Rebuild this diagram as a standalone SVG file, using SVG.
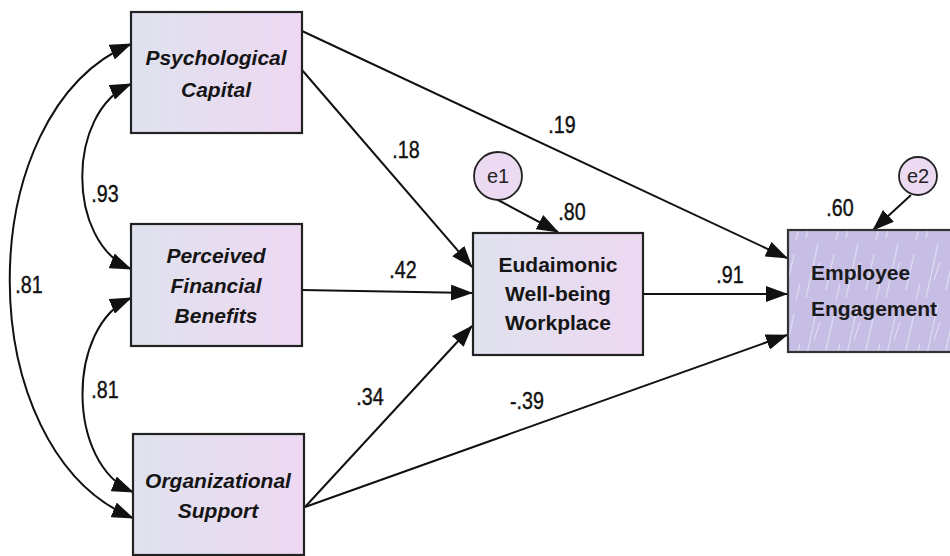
<svg xmlns="http://www.w3.org/2000/svg" width="950" height="556" viewBox="0 0 950 556">
  <defs>
    <linearGradient id="boxFill" x1="0" y1="0" x2="1" y2="0">
      <stop offset="0" stop-color="#dfe2ee"/>
      <stop offset="1" stop-color="#eed8f2"/>
    </linearGradient>
    <pattern id="streaks" width="40" height="60" patternUnits="userSpaceOnUse">
      <rect width="40" height="60" fill="#c6bee4"/>
      <path d="M6,58 L18,4 M26,50 L34,14 M14,40 L20,22 M36,60 L40,44" stroke="#eeeaf8" stroke-width="1" opacity="0.8" fill="none"/>
    </pattern>
    <marker id="head" viewBox="0 0 22 16" markerWidth="22" markerHeight="16" refX="21" refY="8" orient="auto-start-reverse" markerUnits="userSpaceOnUse">
      <path d="M0,0 L22,8 L0,16 Z" fill="#111"/>
    </marker>
  </defs>
  <style>
    .box { fill: url(#boxFill); stroke: #222; stroke-width: 2.2; }
    .err { fill: #ebdaf1; stroke: #222; stroke-width: 1.8; }
    .lbl { font-family: "Liberation Sans", Arial, sans-serif; font-size: 21px; font-weight: bold; fill: #151515; text-anchor: middle; }
    .exo { font-style: italic; }
    .eng { font-family: "Liberation Sans", Arial, sans-serif; font-size: 21px; font-weight: bold; fill: #1a1a1a; }
    .etxt { font-family: "Liberation Sans", Arial, sans-serif; font-size: 20px; fill: #222; text-anchor: middle; }
    .coef { font-family: "Liberation Sans", Arial, sans-serif; font-size: 24px; fill: #111; stroke: #111; stroke-width: 0.4; text-anchor: middle;
            transform-box: fill-box; transform-origin: center; transform: scaleX(0.82); }
    .path { fill: none; stroke: #111; stroke-width: 2; marker-end: url(#head); }
    .cov { fill: none; stroke: #111; stroke-width: 2; marker-start: url(#head); marker-end: url(#head); }
  </style>

  <!-- connectors -->
  <g id="connectors">
    <path class="cov" d="M131,84 C66,112 66,242 131,269"/>
    <path class="cov" d="M131,298 C66,326 66,464 133,492"/>
    <path class="cov" d="M131,44 C-31,112 -31,450 133,518"/>
    <line class="path" x1="302" y1="31" x2="787" y2="258"/>
    <line class="path" x1="302" y1="70" x2="472" y2="267"/>
    <line class="path" x1="302" y1="290" x2="472" y2="293"/>
    <line class="path" x1="305" y1="507" x2="472" y2="326"/>
    <line class="path" x1="305" y1="507" x2="787" y2="335"/>
    <line class="path" x1="643" y1="294" x2="787" y2="294"/>
    <line class="path" x1="498" y1="200" x2="558" y2="232"/>
    <line class="path" x1="911" y1="195" x2="873" y2="230"/>
  </g>

  <!-- coefficients -->
  <g id="coefficients">
    <text class="coef" x="105" y="202">.93</text>
    <text class="coef" x="29" y="293">.81</text>
    <text class="coef" x="105" y="398">.81</text>
    <text class="coef" x="562" y="133">.19</text>
    <text class="coef" x="406" y="158">.18</text>
    <text class="coef" x="403" y="278">.42</text>
    <text class="coef" x="370" y="405">.34</text>
    <text class="coef" x="527" y="409">-.39</text>
    <text class="coef" x="730" y="283">.91</text>
    <text class="coef" x="572" y="220">.80</text>
    <text class="coef" x="840" y="216">.60</text>
  </g>

  <g id="psychological-capital">
    <rect class="box" x="131" y="12" width="171" height="121"/>
    <text class="lbl exo" x="216" y="65">Psychological</text>
    <text class="lbl exo" x="216" y="97">Capital</text>
  </g>

  <g id="perceived-financial-benefits">
    <rect class="box" x="131" y="224" width="171" height="122"/>
    <text class="lbl exo" x="216" y="263">Perceived</text>
    <text class="lbl exo" x="216" y="293">Financial</text>
    <text class="lbl exo" x="216" y="323">Benefits</text>
  </g>

  <g id="organizational-support">
    <rect class="box" x="133" y="434" width="171" height="121"/>
    <text class="lbl exo" x="218" y="488">Organizational</text>
    <text class="lbl exo" x="218" y="518">Support</text>
  </g>

  <g id="eudaimonic-wellbeing">
    <rect class="box" x="473" y="233" width="170" height="122"/>
    <text class="lbl" x="558" y="272">Eudaimonic</text>
    <text class="lbl" x="558" y="301">Well-being</text>
    <text class="lbl" x="558" y="330">Workplace</text>
  </g>

  <g id="employee-engagement">
    <rect x="788" y="230" width="170" height="122" fill="url(#streaks)" stroke="#333" stroke-width="2.2"/>
    <text class="eng" x="811" y="280">Employee</text>
    <text class="eng" x="811" y="316">Engagement</text>
  </g>

  <g id="e1">
    <circle class="err" cx="498" cy="176" r="24"/>
    <text class="etxt" x="498" y="183">e1</text>
  </g>

  <g id="e2">
    <circle class="err" cx="918" cy="176" r="19"/>
    <text class="etxt" x="918" y="183">e2</text>
  </g>
</svg>
